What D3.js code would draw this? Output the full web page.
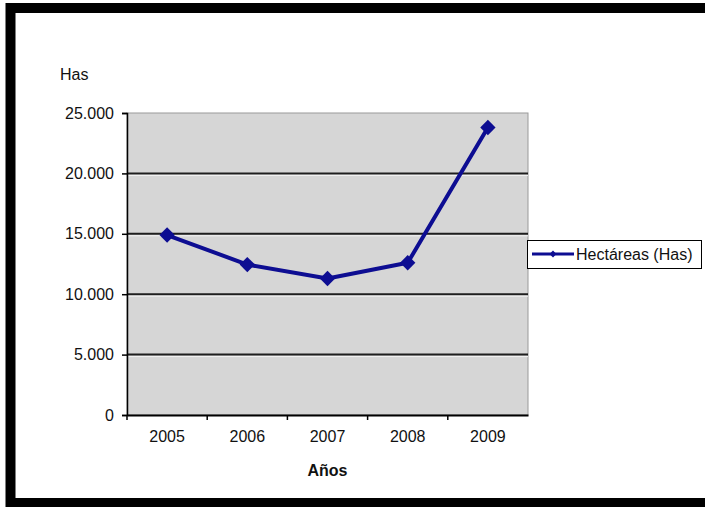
<!DOCTYPE html>
<html>
<head>
<meta charset="utf-8">
<script src="https://cdn.jsdelivr.net/npm/d3@7"></script>
<style>
  body { margin: 0; background: #fff; }
  text { font-family: "Liberation Sans", Arial, sans-serif; }
</style>
</head>
<body>
<div id="chart"></div>
<script>
const years = ['2005', '2006', '2007', '2008', '2009']
const hectareas = [14900, 12450, 11300, 12600, 23800]
const yTicks = [0, 5000, 10000, 15000, 20000, 25000]
const seriesName = 'Hectáreas (Has)'

init()

function init(){
    const W = 705, H = 507
    const plot = {left: 127, right: 528, top: 113, bottom: 415}

    let svg = d3.select('#chart')
                .append('svg')
                .attr('width', W)
                .attr('height', H)

    // black frame (right side runs off the picture)
    svg.append('rect')
        .attr('x', 10.5).attr('y', 8)
        .attr('width', 720).attr('height', 495)
        .style('fill', 'none')
        .style('stroke', '#000')
        .style('stroke-width', 10)

    const x = d3.scaleBand()
        .domain(years)
        .range([plot.left, plot.right])

    const y = d3.scaleLinear()
        .domain([0, 25000])
        .range([plot.bottom, plot.top])

    // plot background
    svg.append('rect')
        .attr('x', plot.left).attr('y', plot.top)
        .attr('width', plot.right - plot.left)
        .attr('height', plot.bottom - plot.top)
        .style('fill', '#d6d6d6')
        .style('stroke', '#9a9a9a')
        .style('stroke-width', 1)

    // gridlines
    svg.append('g')
        .selectAll('line')
        .data(yTicks.filter(d => d > 0 && d < 25000))
        .join('line')
        .attr('x1', plot.left).attr('x2', plot.right)
        .attr('y1', d => y(d)).attr('y2', d => y(d))
        .style('stroke', '#1e1e1e')
        .style('stroke-width', 2)

    svg.append('g')
        .selectAll('line')
        .data(yTicks.filter(d => d > 0 && d < 25000))
        .join('line')
        .attr('x1', plot.left).attr('x2', plot.right)
        .attr('y1', d => y(d) + 2).attr('y2', d => y(d) + 2)
        .style('stroke', '#f4f4f4')
        .style('stroke-width', 1)

    const fmt = d3.formatLocale({decimal: ',', thousands: '.', grouping: [3], currency: ['', '']}).format(',')

    // y axis
    let yAxis = svg.append('g')
        .attr('transform', `translate(${plot.left},0)`)
        .call(d3.axisLeft(y).tickValues(yTicks).tickFormat(fmt).tickSize(5).tickPadding(8))
    yAxis.select('.domain').style('stroke', '#000').style('stroke-width', 1.5)
    yAxis.selectAll('.tick line').style('stroke', '#000').style('stroke-width', 1.5)
    yAxis.selectAll('text').style('font-size', '16px').style('fill', '#111')

    // x axis
    let xAxis = svg.append('g')
        .attr('transform', `translate(0,${plot.bottom})`)
        .call(d3.axisBottom(x).tickSize(0).tickPadding(16))
    xAxis.select('.domain').style('stroke', '#000').style('stroke-width', 2)
    xAxis.selectAll('text').style('font-size', '16px').style('fill', '#111')

    // category separators on x axis
    svg.append('g')
        .selectAll('line')
        .data(years)
        .join('line')
        .attr('x1', d => x(d)).attr('x2', d => x(d))
        .attr('y1', plot.bottom).attr('y2', plot.bottom + 5)
        .style('stroke', '#000')
        .style('stroke-width', 1.5)

    // axis titles
    svg.append('text')
        .attr('x', 60).attr('y', 80)
        .style('font-size', '16px')
        .style('fill', '#111')
        .text('Has')

    svg.append('text')
        .attr('x', (plot.left + plot.right) / 2).attr('y', 476)
        .attr('text-anchor', 'middle')
        .style('font-size', '16px')
        .style('font-weight', 'bold')
        .style('fill', '#111')
        .text('Años')

    // series line
    const color = '#0d0d92'
    const line = d3.line()
        .x((d, i) => x(years[i]) + x.bandwidth() / 2)
        .y(d => y(d))

    svg.append('path')
        .datum(hectareas)
        .attr('d', line)
        .style('fill', 'none')
        .style('stroke', color)
        .style('stroke-width', 4)
        .style('stroke-linejoin', 'round')

    const diamond = d3.symbol().type(d3.symbolDiamond2).size(150)

    svg.append('g')
        .selectAll('path')
        .data(hectareas)
        .join('path')
        .attr('transform', (d, i) => `translate(${x(years[i]) + x.bandwidth() / 2},${y(d)})`)
        .attr('d', diamond)
        .style('fill', color)

    // legend
    let legend = svg.append('g')
    legend.append('rect')
        .attr('x', 527.5).attr('y', 240.5)
        .attr('width', 174).attr('height', 28)
        .style('fill', '#fff')
        .style('stroke', '#000')
        .style('stroke-width', 1)
    legend.append('line')
        .attr('x1', 532).attr('x2', 574)
        .attr('y1', 254).attr('y2', 254)
        .style('stroke', color)
        .style('stroke-width', 3)
    legend.append('path')
        .attr('transform', 'translate(553,254)')
        .attr('d', d3.symbol().type(d3.symbolDiamond2).size(30))
        .style('fill', color)
    legend.append('text')
        .attr('x', 576).attr('y', 260)
        .style('font-size', '16px')
        .style('fill', '#111')
        .text(seriesName)
}
</script>
</body>
</html>
